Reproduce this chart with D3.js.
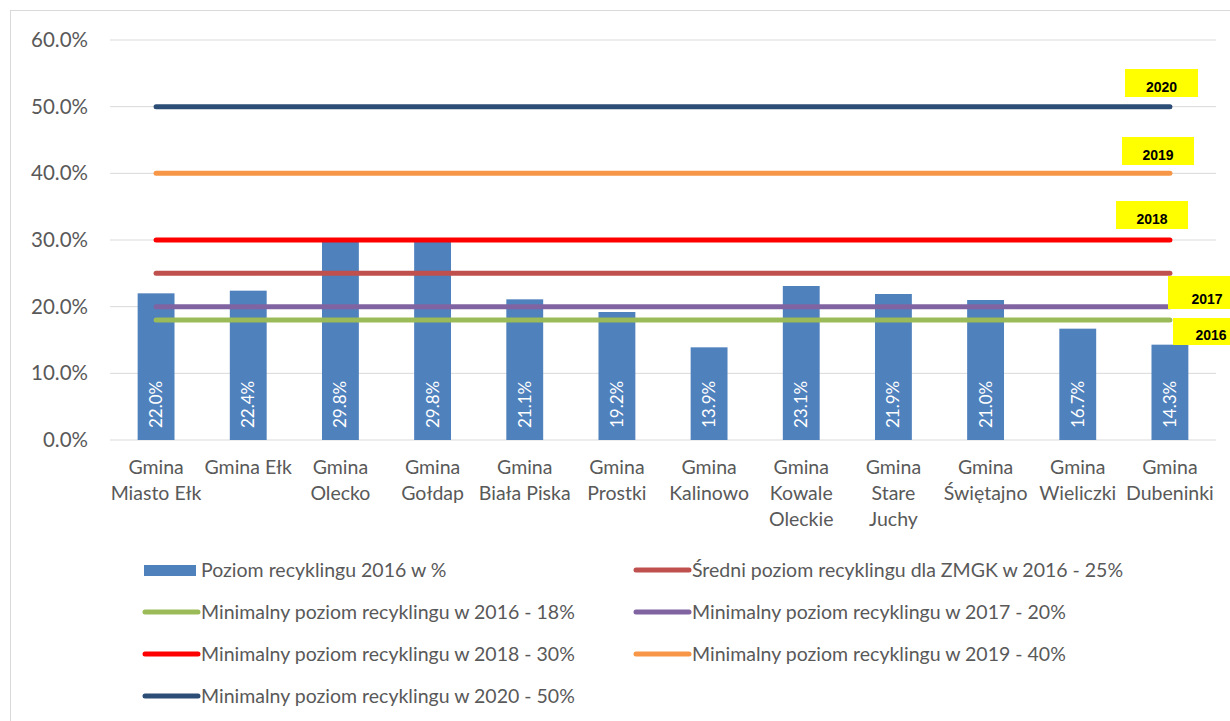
<!DOCTYPE html>
<html lang="pl">
<head>
<meta charset="UTF-8">
<title>Poziom recyklingu 2016</title>
<script src="https://cdn.jsdelivr.net/npm/d3@7"></script>
<style>
    html, body { margin: 0; background: #fff; }
    svg { display: block; font-family: Lato, "Open Sans", sans-serif; }
</style>
</head>
<body>
<div id="chart"></div>
<script>
    // categories (lines of each label)
    const gminy = [
        ["Gmina", "Miasto Ełk"], ["Gmina Ełk"], ["Gmina", "Olecko"], ["Gmina", "Gołdap"],
        ["Gmina", "Biała Piska"], ["Gmina", "Prostki"], ["Gmina", "Kalinowo"],
        ["Gmina", "Kowale", "Oleckie"], ["Gmina", "Stare", "Juchy"], ["Gmina", "Świętajno"],
        ["Gmina", "Wieliczki"], ["Gmina", "Dubeninki"]
    ];
    const poziom2016 = [22.0, 22.4, 29.8, 29.8, 21.1, 19.2, 13.9, 23.1, 21.9, 21.0, 16.7, 14.3];

    const lineNames = [
        "Średni poziom recyklingu dla ZMGK w 2016 - 25%",
        "Minimalny poziom recyklingu w 2016 - 18%",
        "Minimalny poziom recyklingu w 2017 - 20%",
        "Minimalny poziom recyklingu w 2018 - 30%",
        "Minimalny poziom recyklingu w 2019 - 40%",
        "Minimalny poziom recyklingu w 2020 - 50%"
    ];
    const lineValues = [25, 18, 20, 30, 40, 50];
    const lineColors = ["#c0504d", "#9bbb59", "#8064a2", "#ff0000", "#f79646", "#2c4d75"];

    // yellow year tags
    const yearTags = ["2016", "2017", "2018", "2019", "2020"];

    const yTicks = [0, 10, 20, 30, 40, 50, 60];

    const width = 1230, height = 721;
    const svg = d3.select("#chart").append("svg")
        .attr("width", width).attr("height", height);

    // frame
    svg.append("rect")
        .attr("x", 10.5).attr("y", 10.5)
        .attr("width", 1240).attr("height", 730)
        .attr("fill", "#fff").attr("stroke", "#d9d9d9");

    const x = d3.scaleBand()
        .domain(d3.range(gminy.length))
        .range([110, 1216])
        .paddingInner(0.6).paddingOuter(0.3);
    const y = d3.scaleLinear().domain([0, 60]).range([440, 40]);

    // grid
    svg.append("g").selectAll("line")
        .data(yTicks)
        .join("line")
        .attr("x1", 110).attr("x2", 1216)
        .attr("y1", d => y(d)).attr("y2", d => y(d))
        .attr("stroke", "#d9d9d9").attr("stroke-width", 1);

    // y axis labels
    const yAxis = d3.axisLeft(y).tickValues(yTicks).tickSize(0).tickPadding(0)
        .tickFormat(d => d.toFixed(1) + "%");
    svg.append("g")
        .attr("transform", "translate(88,0)")
        .call(yAxis)
        .call(g => g.select(".domain").remove())
        .call(g => g.selectAll("text")
            .attr("fill", "#595959")
            .attr("font-size", 20.5)
            .attr("font-family", "Lato, sans-serif"));

    // bars
    const bw = x.bandwidth();
    svg.append("g").selectAll("rect")
        .data(poziom2016)
        .join("rect")
        .attr("x", (d, i) => x(i))
        .attr("y", d => y(d))
        .attr("width", bw)
        .attr("height", d => y(0) - y(d))
        .attr("fill", "#4f81bd");

    // bar labels
    svg.append("g").selectAll("text")
        .data(poziom2016)
        .join("text")
        .attr("transform", (d, i) => `translate(${x(i) + bw / 2 + 6},${y(0) - 12}) rotate(-90)`)
        .attr("fill", "#fff")
        .attr("font-size", 17)
        .text(d => d.toFixed(1) + "%");

    // horizontal level lines, from first to last category centre
    const xc = i => x(i) + bw / 2;
    const line = d3.line().x(d => d[0]).y(d => d[1]);
    svg.append("g").selectAll("path")
        .data(lineValues)
        .join("path")
        .attr("d", d => line([[xc(0), y(d)], [xc(gminy.length - 1), y(d)]]))
        .attr("stroke", (d, i) => lineColors[i])
        .attr("stroke-width", 5)
        .attr("stroke-linecap", "round")
        .attr("fill", "none");

    // year tags
    const tagBoxes = [[1173, 318, 60, 27], [1168, 276, 62, 33], [1116, 201, 72, 28], [1122, 137, 72, 28], [1125, 69, 73, 28]];
    const tags = svg.append("g").selectAll("g")
        .data(yearTags)
        .join("g");
    tags.append("rect")
        .attr("x", (d, i) => tagBoxes[i][0])
        .attr("y", (d, i) => tagBoxes[i][1])
        .attr("width", (d, i) => tagBoxes[i][2])
        .attr("height", (d, i) => tagBoxes[i][3])
        .attr("fill", "#ffff00");
    tags.append("text")
        .attr("x", (d, i) => tagBoxes[i][0] + tagBoxes[i][2] / 2 + (i < 2 ? 8 : 0))
        .attr("y", (d, i) => tagBoxes[i][1] + tagBoxes[i][3] - 5)
        .attr("text-anchor", "middle")
        .attr("font-family", "Liberation Sans, Arial, sans-serif")
        .attr("font-weight", "bold")
        .attr("font-size", 14)
        .attr("fill", "#000")
        .text(d => d);

    // x labels
    svg.append("g").selectAll("text")
        .data(gminy)
        .join("text")
        .attr("text-anchor", "middle")
        .attr("fill", "#595959")
        .attr("font-size", 19.5)
        .attr("x", (d, i) => xc(i))
        .attr("y", 474)
        .selectAll("tspan")
        .data(d => d)
        .join("tspan")
        .attr("x", function () { return d3.select(this.parentNode).attr("x"); })
        .attr("dy", (d, j) => j === 0 ? 0 : 26)
        .text(d => d);

    // legend, two entries per row
    const legendItems = [
        { name: "Poziom recyklingu 2016 w %", color: "#4f81bd", bar: true },
        ...lineNames.map((n, i) => ({ name: n, color: lineColors[i], bar: false }))
    ];
    const legend = svg.append("g").selectAll("g")
        .data(legendItems)
        .join("g")
        .attr("transform", (d, i) => `translate(${i % 2 === 0 ? 143 : 634},${570 + Math.floor(i / 2) * 42})`);
    legend.filter(d => d.bar).append("rect")
        .attr("x", 1).attr("y", -5).attr("width", 52).attr("height", 11)
        .attr("fill", d => d.color);
    legend.filter(d => !d.bar).append("line")
        .attr("x1", 2).attr("x2", 55).attr("y1", 0).attr("y2", 0)
        .attr("stroke", d => d.color).attr("stroke-width", 5)
        .attr("stroke-linecap", "round");
    legend.append("text")
        .attr("x", 58).attr("y", 7)
        .attr("fill", "#595959")
        .attr("font-size", 19.5)
        .text(d => d.name);
</script>
</body>
</html>
